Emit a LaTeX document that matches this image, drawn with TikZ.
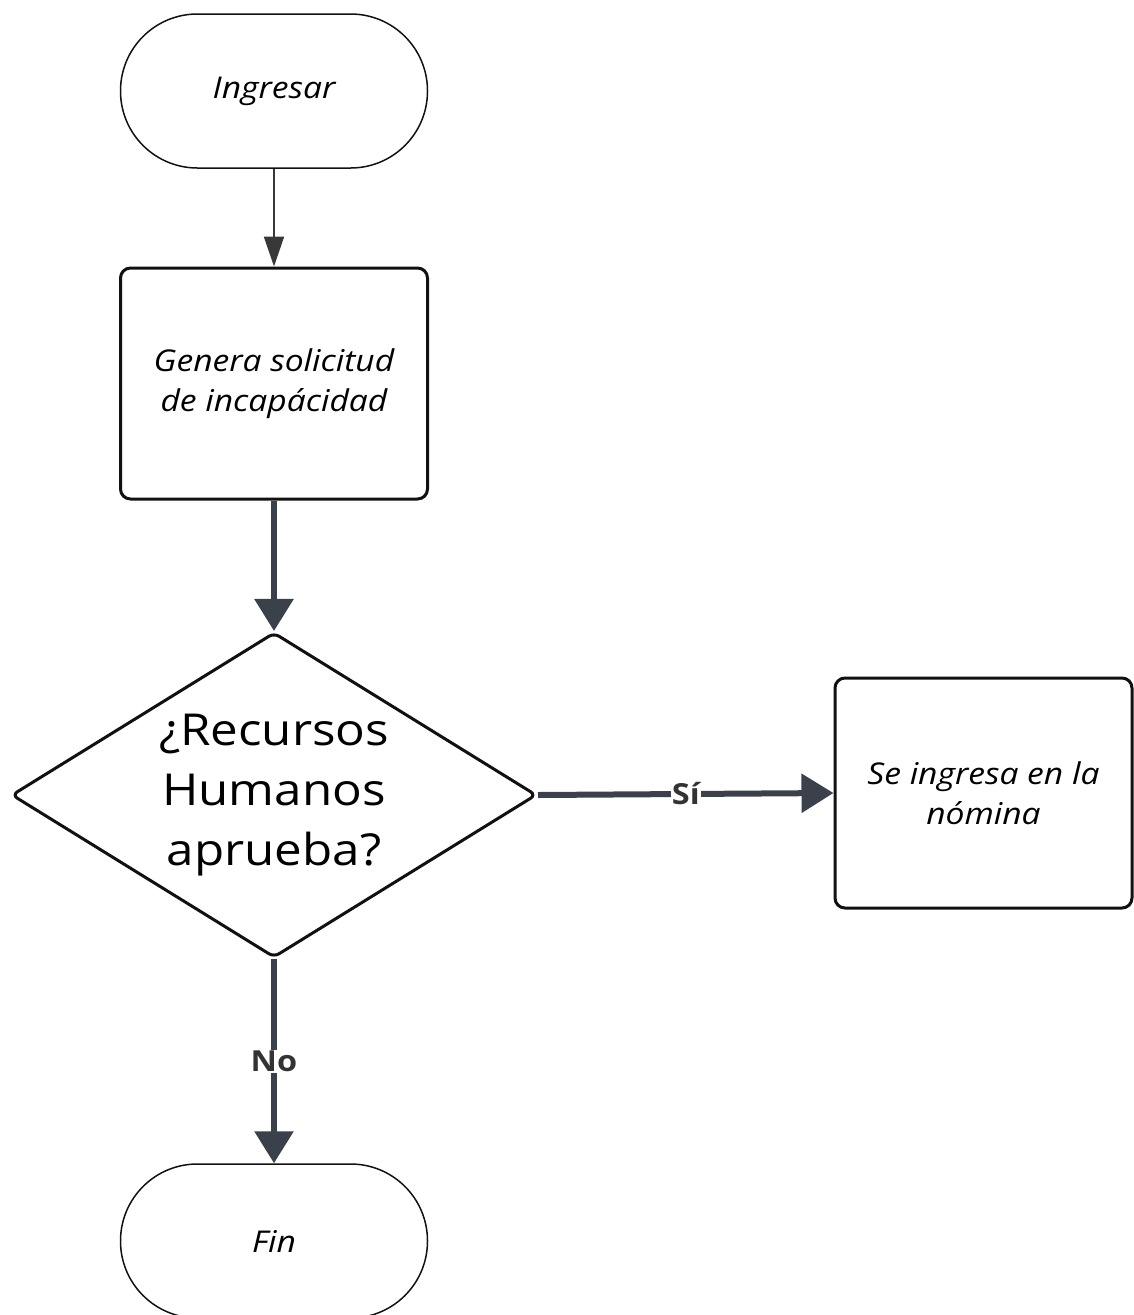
\documentclass[tikz,border=0pt]{standalone}
\usepackage{fontspec}
\setmainfont{Open Sans}[FakeStretch=1.12]
\usetikzlibrary{arrows.meta,shapes.geometric}
\definecolor{edgec}{HTML}{3A414B}
\definecolor{thinc}{HTML}{383838}
\definecolor{outline}{HTML}{111111}
\definecolor{lblc}{HTML}{333333}
\begin{document}
\begin{tikzpicture}[x=1pt,y=-1pt,
 terminal/.style={draw=outline, line width=1.5pt, rounded corners=76.9pt, minimum width=307pt, minimum height=154pt, inner sep=0pt, font=\fontsize{30}{40}\selectfont\itshape},
 procbox/.style={draw=outline, line width=3pt, rounded corners=10pt, minimum width=307pt, minimum height=231pt, inner sep=0pt, align=center, font=\fontsize{30}{40}\selectfont\itshape},
 decision/.style={diamond, aspect=1.615, draw=outline, line width=3pt, rounded corners=6pt, minimum width=525pt, minimum height=325pt, inner sep=0pt, align=center, font=\fontsize{44}{60}\selectfont},
 flow/.style={draw=edgec, line width=6pt, -{Triangle[length=32pt,width=38pt]}},
 thinflow/.style={draw=thinc, line width=2pt, -{Triangle[length=30pt,width=20pt]}},
 lbl/.style={fill=white, inner sep=1pt, text=lblc, font=\fontsize{29}{30}\selectfont\bfseries}
]
\useasboundingbox (0,0) rectangle (1133,1315);
\node[terminal] (start) at (274,91) {Ingresar};
\node[procbox] (gen) at (274,383.5) {Genera solicitud\\de incapácidad};
\node[decision] (dec) at (274,795) {¿Recursos\\Humanos\\aprueba?};
\node[procbox, minimum width=297pt, minimum height=230pt] (nom) at (983.5,793) {Se ingresa en la\\nómina};
\node[terminal] (fin) at (274,1241) {Fin};
\draw[thinflow] (start) -- (gen);
\draw[flow] (gen) -- (dec);
\draw[flow] (dec.east) -- node[lbl]{Sí} (nom.west);
\draw[flow] (dec.south) -- node[lbl]{No} (fin.north);
\end{tikzpicture}
\end{document}
